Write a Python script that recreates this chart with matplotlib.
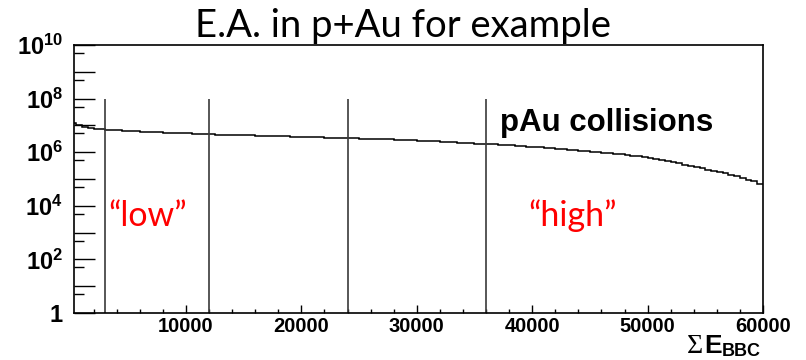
import matplotlib
matplotlib.use("Agg")
import matplotlib.pyplot as plt
import numpy as np
from matplotlib.ticker import LogLocator, MultipleLocator, FuncFormatter, NullFormatter

plt.rcParams.update({
    "font.family": "Liberation Sans",
    "font.weight": "bold",
    "mathtext.fontset": "custom",
    "mathtext.rm": "Liberation Sans:bold",
    "mathtext.it": "Liberation Sans:bold",
    "mathtext.bf": "Liberation Sans:bold",
})

# BBC charge-sum distribution, 500-wide bins starting at 0
bin_width = 500
counts = [
    1.23e7, 1.00e7, 8.91e6, 8.13e6, 7.59e6, 7.08e6,
    6.76e6, 6.61e6, 6.46e6, 6.31e6, 6.17e6, 6.03e6, 5.89e6, 5.75e6, 5.62e6,
    5.56e6, 5.43e6, 5.31e6, 5.19e6, 5.07e6, 5.01e6, 4.90e6, 4.79e6, 4.73e6,
    4.62e6, 4.57e6, 4.52e6, 4.47e6, 4.37e6, 4.32e6, 4.27e6, 4.22e6, 4.17e6,
    4.07e6, 4.03e6, 3.98e6, 3.94e6, 3.89e6, 3.80e6, 3.76e6, 3.72e6, 3.67e6,
    3.63e6, 3.55e6, 3.51e6, 3.47e6, 3.43e6, 3.39e6,
    3.35e6, 3.31e6, 3.24e6, 3.20e6, 3.16e6, 3.09e6, 3.02e6, 2.99e6, 2.95e6,
    2.88e6, 2.82e6, 2.75e6, 2.69e6, 2.63e6, 2.57e6, 2.51e6, 2.45e6, 2.40e6,
    2.34e6, 2.29e6, 2.24e6, 2.19e6, 2.11e6, 2.04e6,
    2.00e6, 1.95e6, 1.88e6, 1.82e6, 1.78e6, 1.72e6, 1.66e6, 1.60e6, 1.55e6,
    1.50e6, 1.45e6, 1.40e6, 1.35e6, 1.29e6, 1.24e6, 1.20e6, 1.15e6, 1.11e6,
    1.06e6, 1.01e6,
    9.55e5, 9.12e5, 8.71e5, 8.22e5, 7.76e5, 7.33e5, 6.92e5, 6.46e5,
    5.96e5, 5.50e5, 5.07e5, 4.62e5, 4.22e5, 3.85e5, 3.47e5, 3.13e5, 2.82e5,
    2.51e5, 2.26e5, 2.04e5, 1.82e5, 1.62e5, 1.43e5, 1.26e5,
    1.10e5, 9.55e4, 8.13e4, 6.61e4,
]

# event-activity class boundaries
cut_values = [3000, 12000, 24000, 36000]
cut_top = 1e8

x_range = (300, 60000)
y_range = (1, 1e10)

title = "E.A. in p+Au for example"
system_label = "pAu collisions"
class_labels = ["\u201clow\u201d", "\u201chigh\u201d"]

W, H = 806, 360
fig = plt.figure(figsize=(W / 100, H / 100), dpi=100)
ax = fig.add_axes([74 / W, 47 / H, (763 - 74) / W, (313 - 45) / H])

edges = np.arange(len(counts) + 1) * bin_width
ax.stairs(counts, edges, color="black", linewidth=1.1, baseline=None)
ax.vlines(cut_values, y_range[0], cut_top, color="#3a3a3a", linewidth=1.2)

ax.set_yscale("log")
ax.set_xlim(*x_range)
ax.set_ylim(*y_range)

ax.yaxis.set_major_locator(LogLocator(base=10, numticks=20))
ax.yaxis.set_minor_locator(LogLocator(base=10, subs=[5], numticks=20))
ax.yaxis.set_minor_formatter(NullFormatter())


def ylab(v, pos):
    e = int(round(np.log10(v)))
    if e % 2:
        return ""
    return "1" if e == 0 else r"$10^{%d}$" % e


ax.yaxis.set_major_formatter(FuncFormatter(ylab))
ax.xaxis.set_major_locator(MultipleLocator(10000))
ax.xaxis.set_minor_locator(MultipleLocator(2000))

ax.tick_params(axis="y", which="major", direction="in", length=15, width=1.0,
               pad=8, labelsize=17)
ax.tick_params(axis="y", which="minor", direction="in", length=7.5, width=1.0)
ax.tick_params(axis="x", which="major", direction="in", length=5.8, width=1.0,
               pad=3, labelsize=14.5)
ax.tick_params(axis="x", which="minor", direction="in", length=2.9, width=1.0)
for s in ax.spines.values():
    s.set_linewidth(1.2)

fig.text(403 / W, 1 - 37 / H, title, ha="center", va="baseline",
         fontsize=27.5, fontweight="normal", family="Lato", color="black")
fig.text(500 / W, 1 - 131 / H, system_label, ha="left", va="baseline",
         fontsize=22.5, fontweight="bold", color="black")
fig.text(108 / W, 1 - 226 / H, class_labels[0], ha="left", va="baseline",
         fontsize=24.5, fontweight="normal", family="Lato", color="#ff0000")
fig.text(528 / W, 1 - 226 / H, class_labels[1], ha="left", va="baseline",
         fontsize=24.5, fontweight="normal", family="Lato", color="#ff0000")

# axis title: serif sigma, bold E, then the BBC subscript set a little lower
fig.text(703 / W, 1 - 353 / H, "\u03a3", ha="right", va="baseline",
         fontsize=20, fontweight="normal", family="Liberation Serif")
fig.text(704 / W, 1 - 353 / H, "E", ha="left", va="baseline",
         fontsize=19, fontweight="bold")
fig.text(722 / W, 1 - 359.5 / H, "BBC", ha="left", va="bottom",
         fontsize=13, fontweight="bold")

fig.savefig("out.png", dpi=100)
